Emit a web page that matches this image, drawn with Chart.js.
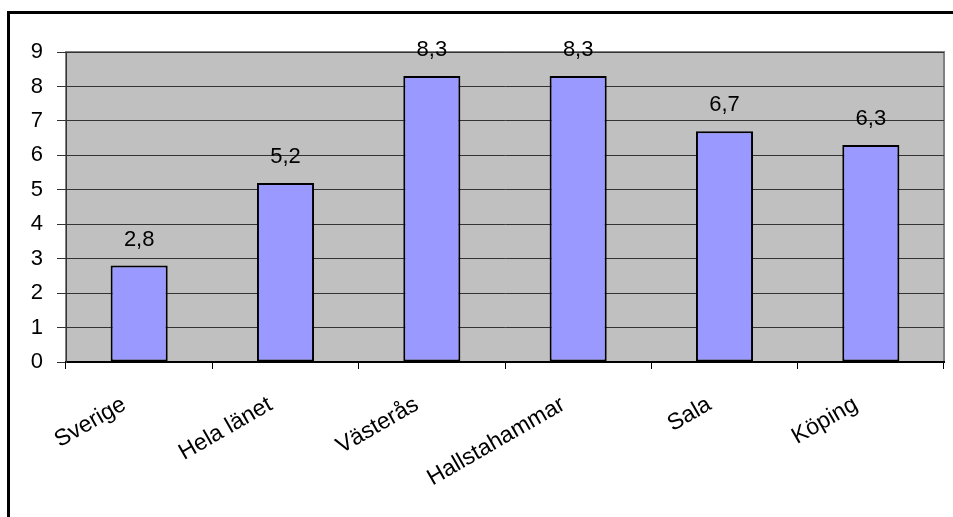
<!DOCTYPE html>
<html>
<head>
<meta charset="utf-8">
<script src="https://cdn.jsdelivr.net/npm/chart.js@4"></script>
<style>
  html, body { margin: 0; padding: 0; background: #fff; overflow: hidden; }
  #wrap { position: relative; width: 953px; height: 517px; }
  #frame { position: absolute; left: 7px; top: 11px; width: 1000px; height: 600px; border: 3px solid #000; box-sizing: border-box; }
  #chart { position: absolute; left: 0; top: 0; }
</style>
</head>
<body>
<div id="wrap">
  <div id="frame"></div>
  <canvas id="chart" width="953" height="517"></canvas>
</div>
<script>
  // data
  let categories = ['Sverige', 'Hela länet', 'Västerås', 'Hallstahammar', 'Sala', 'Köping'];
  let values = [2.8, 5.2, 8.3, 8.3, 6.7, 6.3];
  let valueLabels = ['2,8', '5,2', '8,3', '8,3', '6,7', '6,3'];
  let yTicks = [0, 1, 2, 3, 4, 5, 6, 7, 8, 9];

  let fontFamily = 'Arial, "Liberation Sans", sans-serif';

  // gray plot area with a gray frame
  let plotBackground = {
    id: 'plotBackground',
    beforeDraw: function(chart) {
      let ctx = chart.ctx;
      let a = chart.chartArea;
      ctx.save();
      ctx.fillStyle = '#C0C0C0';
      ctx.fillRect(a.left, a.top, a.right - a.left, a.bottom - a.top);
      ctx.strokeStyle = '#808080';
      ctx.lineWidth = 2;
      ctx.strokeRect(a.left, a.top, a.right - a.left, a.bottom - a.top);
      ctx.restore();
    }
  };

  // value labels above the bars
  let barLabels = {
    id: 'barLabels',
    afterDatasetsDraw: function(chart) {
      let ctx = chart.ctx;
      let meta = chart.getDatasetMeta(0);
      ctx.save();
      ctx.font = '22px ' + fontFamily;
      ctx.fillStyle = '#000';
      ctx.textAlign = 'center';
      ctx.textBaseline = 'alphabetic';
      meta.data.forEach(function(bar, i) {
        ctx.fillText(valueLabels[i], bar.x, bar.y - 20);
      });
      ctx.restore();
    }
  };

  let ctx = document.getElementById('chart').getContext('2d');

  new Chart(ctx, {
    type: 'bar',
    data: {
      labels: categories,
      datasets: [{
        data: values,
        backgroundColor: '#9999FF',
        borderColor: '#000',
        borderWidth: 2,
        borderSkipped: false,
        barPercentage: 0.39,
        categoryPercentage: 1
      }]
    },
    options: {
      responsive: false,
      animation: false,
      devicePixelRatio: 1,
      layout: { padding: { left: 0, top: 52, right: 9, bottom: 0 } },
      plugins: {
        legend: { display: false },
        tooltip: { enabled: false }
      },
      scales: {
        x: {
          offset: true,
          afterFit: function(scale) { scale.height = 155; },
          grid: {
            offset: true,
            drawOnChartArea: false,
            color: '#000',
            tickLength: 7,
            lineWidth: 1
          },
          border: { color: '#000', width: 2 },
          ticks: {
            color: '#000',
            font: { family: fontFamily, size: 23 },
            minRotation: 30,
            maxRotation: 30,
            padding: 22,
            labelOffset: -15,
            autoSkip: false
          }
        },
        y: {
          min: 0,
          max: 9,
          afterFit: function(scale) { scale.width = 66; },
          afterBuildTicks: function(scale) {
            scale.ticks = yTicks.map(function(v) { return { value: v }; });
          },
          grid: {
            color: '#333',
            lineWidth: 1,
            tickLength: 9
          },
          border: { color: '#333', width: 1 },
          ticks: {
            color: '#000',
            font: { family: fontFamily, size: 22 },
            padding: 14
          }
        }
      }
    },
    plugins: [plotBackground, barLabels]
  });
</script>
</body>
</html>
